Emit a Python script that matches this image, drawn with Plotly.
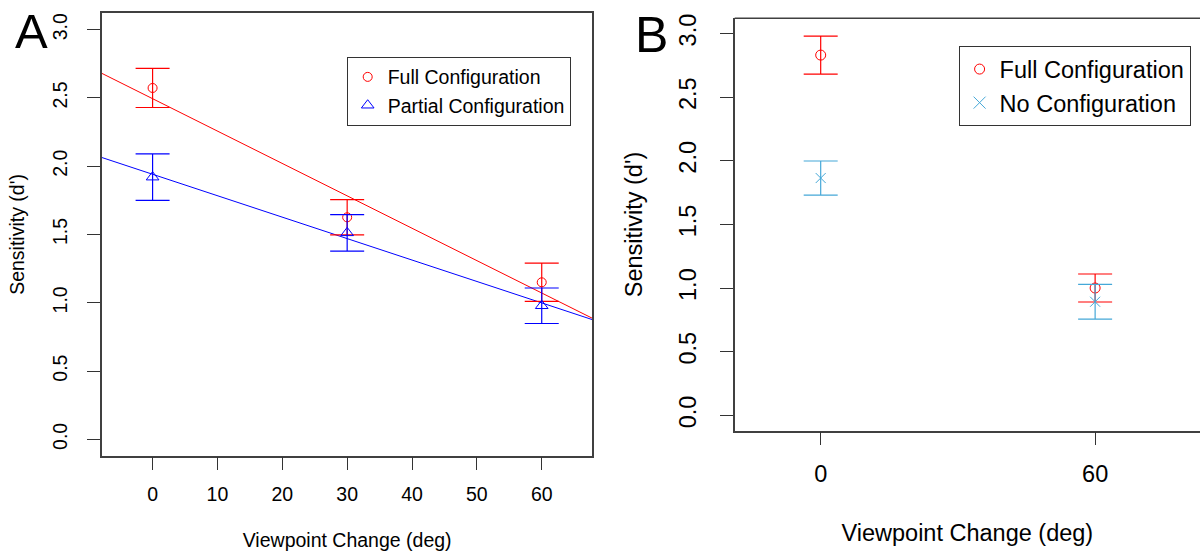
import numpy as np
import plotly.graph_objects as go

# ---------------- Data ----------------
# Panel A
a_x = [0, 30, 60]
a_full_y = [2.573, 1.626, 1.15]
a_full_err = [0.143, 0.129, 0.14]
a_partial_y = [1.92, 1.512, 0.978]
a_partial_err = [0.17, 0.134, 0.13]
a_xticks = [0, 10, 20, 30, 40, 50, 60]
a_xrange = [-7.8, 67.8]

# Panel B
b_x = [0, 60]
b_full_y = [2.831, 1.001]
b_full_err = [0.149, 0.11]
b_none_y = [1.865, 0.893]
b_none_err = [0.134, 0.136]
b_xticks = [0, 60]
b_xrange = [-18.8, 82.93]

y_ticks = [0.0, 0.5, 1.0, 1.5, 2.0, 2.5, 3.0]
y_range = [-0.12, 3.12]

labels = ["Full Configuration", "Partial Configuration", "No Configuration"]

RED = "#FF0000"
BLUE = "#0000FF"
SKY = "#45A8D8"
FONT = "Liberation Sans, Arial, sans-serif"
AXC = "#404040"

fig = go.Figure()

# ---- Panel A: regression lines ----
xs_line = np.array(a_xrange) + np.array([-3, 3])
for ys, col in [(a_full_y, RED), (a_partial_y, BLUE)]:
    k, b = np.polyfit(a_x, ys, 1)
    fig.add_trace(go.Scatter(x=xs_line, y=k * xs_line + b, mode="lines",
                             line=dict(color=col, width=1), showlegend=False,
                             xaxis="x", yaxis="y", hoverinfo="skip"))

# ---- Panel A: points with error bars ----
fig.add_trace(go.Scatter(x=a_x, y=a_full_y, mode="markers",
                         marker=dict(symbol="circle-open", size=9, color=RED, line=dict(width=1)),
                         error_y=dict(type="data", array=a_full_err, color=RED, thickness=1.2, width=17),
                         showlegend=False, xaxis="x", yaxis="y"))
fig.add_trace(go.Scatter(x=a_x, y=a_partial_y, mode="markers",
                         marker=dict(symbol="triangle-up-open", size=11, color=BLUE, line=dict(width=1)),
                         error_y=dict(type="data", array=a_partial_err, color=BLUE, thickness=1.2, width=17),
                         showlegend=False, xaxis="x", yaxis="y"))
# legend entries A
fig.add_trace(go.Scatter(x=[None], y=[None], mode="markers", name=labels[0],
                         marker=dict(symbol="circle-open", size=9, color=RED, line=dict(width=1)),
                         legend="legend", xaxis="x", yaxis="y"))
fig.add_trace(go.Scatter(x=[None], y=[None], mode="markers", name=labels[1],
                         marker=dict(symbol="triangle-up-open", size=11, color=BLUE, line=dict(width=1)),
                         legend="legend", xaxis="x", yaxis="y"))

# ---- Panel B ----
fig.add_trace(go.Scatter(x=b_x, y=b_full_y, mode="markers",
                         marker=dict(symbol="circle-open", size=10, color=RED, line=dict(width=1)),
                         error_y=dict(type="data", array=b_full_err, color=RED, thickness=1.2, width=17),
                         showlegend=False, xaxis="x2", yaxis="y2"))
fig.add_trace(go.Scatter(x=b_x, y=b_none_y, mode="markers",
                         marker=dict(symbol="x-thin-open", size=10, color=SKY, line=dict(width=1, color=SKY)),
                         error_y=dict(type="data", array=b_none_err, color=SKY, thickness=1.2, width=17),
                         showlegend=False, xaxis="x2", yaxis="y2"))
fig.add_trace(go.Scatter(x=[None], y=[None], mode="markers", name=labels[0],
                         marker=dict(symbol="circle-open", size=10, color=RED, line=dict(width=1)),
                         legend="legend2", xaxis="x2", yaxis="y2"))
fig.add_trace(go.Scatter(x=[None], y=[None], mode="markers", name=labels[2],
                         marker=dict(symbol="x-thin-open", size=12, color=SKY, line=dict(width=1, color=SKY)),
                         legend="legend2", xaxis="x2", yaxis="y2"))


def xax(domain, rng, ticks, fs, mirror, anchor, standoff, title_standoff):
    return dict(domain=domain, range=rng, tickvals=ticks, ticks="outside", ticklen=13,
                tickwidth=1, tickcolor="#333", showline=True, linecolor=AXC, linewidth=1.5,
                mirror=mirror, showgrid=False, zeroline=False, anchor=anchor,
                tickfont=dict(family=FONT, size=fs, color="black"),
                ticklabelstandoff=standoff,
                title=dict(text="Viewpoint Change (deg)", font=dict(family=FONT, size=fs, color="black"),
                           standoff=title_standoff))


def yax(domain, fs, mirror, anchor, standoff, title_standoff):
    return dict(domain=domain, range=y_range, tickvals=y_ticks, tickformat=".1f",
                ticks="outside", ticklen=13, tickwidth=1, tickcolor="#333",
                showline=True, linecolor=AXC, linewidth=1.5, mirror=mirror,
                showgrid=False, zeroline=False, anchor=anchor, tickangle=-90,
                tickfont=dict(family=FONT, size=fs, color="black"),
                ticklabelstandoff=standoff,
                title=dict(text="Sensitivity (d')", font=dict(family=FONT, size=fs, color="black"),
                           standoff=title_standoff))


FA = 19.5
FB = 23.5

fig.update_layout(
    width=1200, height=556,
    margin=dict(l=0, r=0, t=0, b=0, autoexpand=False),
    paper_bgcolor="white", plot_bgcolor="white",
    font=dict(family=FONT, color="black"),
    xaxis=xax([0.085, 0.4936], a_xrange, a_xticks, FA, True, "y", 7, 30),
    yaxis=yax([0.1804, 0.9761], FA, True, "x", 12, 20),
    xaxis2=xax([0.61225, 1.0], b_xrange, b_xticks, FB, False, "y2", 8, 39),
    yaxis2=yax([0.22536, 0.96709], FB, False, "x2", 15, 25),
    legend=dict(x=346.7 / 1200, y=1 - 56.7 / 556, xanchor="left", yanchor="top",
                bordercolor="#333", borderwidth=1, bgcolor="white",
                font=dict(family=FONT, size=FA, color="black"), itemsizing="trace"),
    legend2=dict(x=958.6 / 1200, y=1 - 46.3 / 556, xanchor="left", yanchor="top",
                 bordercolor="#333", borderwidth=1, bgcolor="white",
                 font=dict(family=FONT, size=FB, color="black"), itemsizing="trace"),
    showlegend=True,
    shapes=[dict(type="line", xref="x2 domain", yref="y2 domain", x0=0, x1=1, y0=1, y1=1,
                 line=dict(color=AXC, width=1.5))],
    annotations=[
        dict(text="A", x=31.5 / 1200, y=1 - 31 / 556, xref="paper", yref="paper",
             showarrow=False, font=dict(family=FONT, size=49, color="black"),
             xanchor="center", yanchor="middle"),
        dict(text="B", x=651.5 / 1200, y=1 - 35 / 556, xref="paper", yref="paper",
             showarrow=False, font=dict(family=FONT, size=50, color="black"),
             xanchor="center", yanchor="middle"),
    ],
)

fig.write_html("out.html", config={"displayModeBar": False},
               post_script="document.body.style.margin='0px';")
